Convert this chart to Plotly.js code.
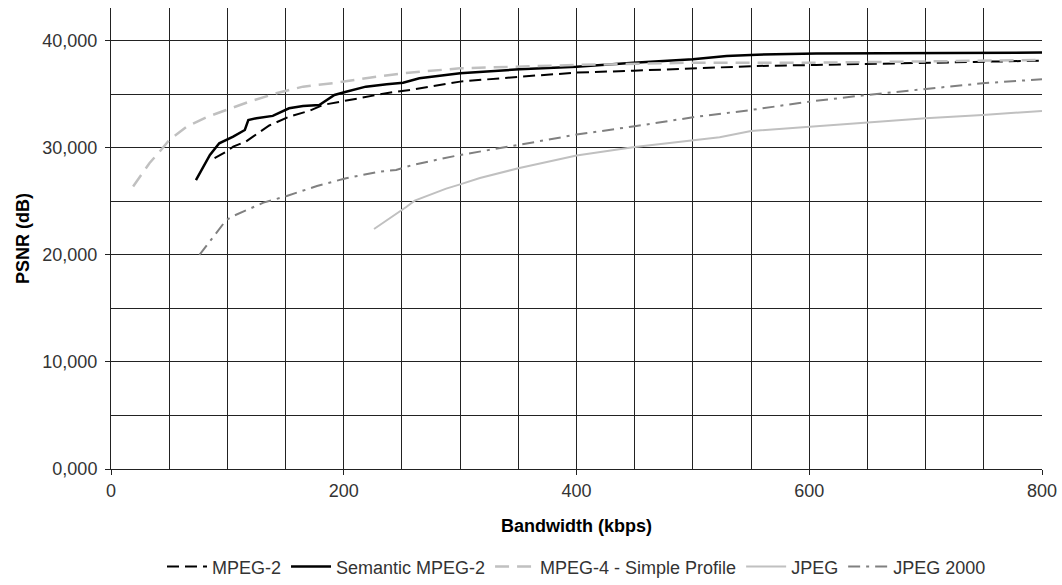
<!DOCTYPE html>
<html>
<head>
<meta charset="utf-8">
<script src="https://cdn.plot.ly/plotly-3.0.1.min.js"></script>
<style>html,body{margin:0;padding:0;background:#fff;}#chart{width:1062px;height:585px;}</style>
</head>
<body>
<div id="chart"></div>
<script>
// Semantic MPEG-2
const semX = [73, 78, 85, 93, 105, 115, 118, 125, 139, 153, 165, 179, 192, 202, 219, 237, 251, 265, 291, 300, 351, 400, 449, 500, 529, 555, 606, 700, 800];
const semY = [27.0, 28.0, 29.35, 30.44, 31.06, 31.68, 32.6, 32.78, 33.0, 33.71, 33.93, 34.02, 34.95, 35.26, 35.73, 35.95, 36.1, 36.51, 36.88, 36.98, 37.35, 37.6, 37.97, 38.29, 38.6, 38.72, 38.82, 38.88, 38.91];
// MPEG-2
const mpeg2X = [89, 99, 105, 116, 122, 136, 153, 171, 182, 202, 222, 239, 257, 285, 300, 351, 400, 449, 500, 555, 606, 700, 800];
const mpeg2Y = [29.04, 29.66, 30.12, 30.6, 31.06, 32.1, 32.93, 33.49, 34.02, 34.42, 34.8, 35.17, 35.42, 35.95, 36.2, 36.66, 37.04, 37.22, 37.4, 37.66, 37.76, 37.97, 38.16];
// MPEG-4 - Simple Profile
const mpeg4X = [19, 33, 43, 50, 65, 82, 99, 119, 142, 165, 194, 222, 251, 280, 300, 400, 500, 606, 700, 800];
const mpeg4Y = [26.4, 28.57, 29.81, 30.75, 31.99, 32.87, 33.55, 34.33, 35.11, 35.73, 36.1, 36.57, 36.98, 37.22, 37.45, 37.76, 37.97, 37.97, 38.07, 38.22];
// JPEG
const jpegX = [226, 242, 254, 261, 277, 288, 300, 317, 350, 400, 450, 500, 523, 550, 600, 649, 700, 749, 800];
const jpegY = [22.43, 23.58, 24.51, 25.08, 25.77, 26.2, 26.6, 27.2, 28.1, 29.3, 30.08, 30.7, 31.0, 31.59, 31.99, 32.37, 32.78, 33.08, 33.46];
// JPEG 2000
const j2kX = [76, 88, 99, 105, 131, 151, 177, 202, 231, 245, 259, 282, 300, 350, 400, 450, 500, 550, 600, 649, 700, 749, 800];
const j2kY = [20.0, 21.71, 23.27, 23.64, 24.89, 25.51, 26.45, 27.17, 27.79, 27.94, 28.41, 28.94, 29.35, 30.28, 31.25, 32.03, 32.87, 33.55, 34.33, 34.95, 35.48, 36.05, 36.42];

const traces = [
  {x: mpeg2X, y: mpeg2Y, name: 'MPEG-2', mode: 'lines', line: {color: '#000000', width: 2, dash: '12px,6px'}},
  {x: semX, y: semY, name: 'Semantic MPEG-2', mode: 'lines', line: {color: '#000000', width: 2.5}},
  {x: mpeg4X, y: mpeg4Y, name: 'MPEG-4 - Simple Profile', mode: 'lines', line: {color: '#c0c0c0', width: 2.5, dash: '14px,8px'}},
  {x: jpegX, y: jpegY, name: 'JPEG', mode: 'lines', line: {color: '#c0c0c0', width: 2}},
  {x: j2kX, y: j2kY, name: 'JPEG 2000', mode: 'lines', line: {color: '#808080', width: 2, dash: '12px,6px,3px,6px'}}
];

const layout = {
  width: 1062, height: 585,
  margin: {l: 111, r: 20, t: 8, b: 116},
  paper_bgcolor: '#ffffff', plot_bgcolor: '#ffffff',
  separators: ',.',
  font: {family: 'Liberation Sans, Arial, sans-serif', size: 18, color: '#333333'},
  showlegend: true,
  legend: {orientation: 'h', xref: 'paper', x: 0.5, xanchor: 'center',
           yref: 'container', y: 0.031, yanchor: 'middle',
           font: {size: 18, color: '#333333'}, itemwidth: 40, tracegroupgap: 0},
  xaxis: {
    range: [0, 800], dtick: 200, tick0: 0,
    showgrid: true, gridcolor: '#222222', gridwidth: 1,
    minor: {dtick: 50, showgrid: true, gridcolor: '#222222', gridwidth: 1},
    ticks: 'outside', ticklen: 5, tickcolor: '#222222',
    showline: true, linecolor: '#222222', linewidth: 1,
    zeroline: false,
    tickfont: {size: 18, color: '#333333'},
    title: {text: '<b>Bandwidth (kbps)</b>', font: {size: 18, color: '#000000'}, standoff: 19}
  },
  yaxis: {
    range: [0, 43.08], dtick: 10, tick0: 0, tickformat: ',.3f',
    showgrid: true, gridcolor: '#222222', gridwidth: 1,
    minor: {dtick: 5, showgrid: true, gridcolor: '#222222', gridwidth: 1},
    ticks: 'outside', ticklen: 5, tickcolor: '#222222',
    ticklabelstandoff: 4,
    showline: true, linecolor: '#222222', linewidth: 1,
    zeroline: false,
    tickfont: {size: 18, color: '#333333'},
    title: {text: '<b>PSNR (dB)</b>', font: {size: 18, color: '#000000'}, standoff: 8}
  }
};

Plotly.newPlot('chart', traces, layout, {displayModeBar: false, staticPlot: true});
</script>
</body>
</html>
